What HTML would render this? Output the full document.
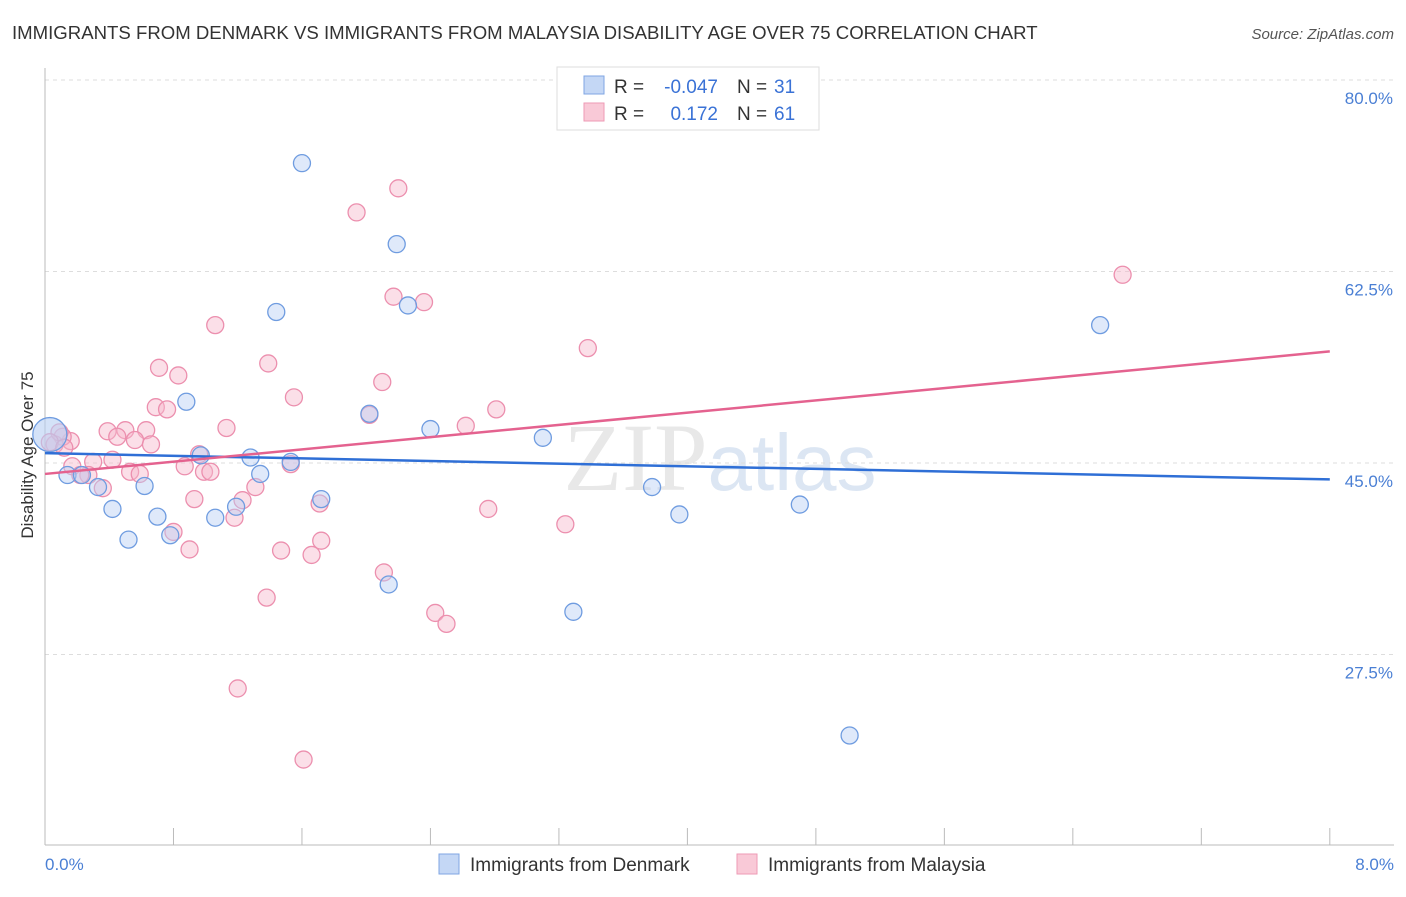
<!DOCTYPE html>
<html><head><meta charset="utf-8"><style>
body{margin:0;background:#fff;font-family:"Liberation Sans",sans-serif;}
</style></head><body>
<svg width="1406" height="892" xmlns="http://www.w3.org/2000/svg">
<text x="12" y="39" font-size="18.6" fill="#333">IMMIGRANTS FROM DENMARK VS IMMIGRANTS FROM MALAYSIA DISABILITY AGE OVER 75 CORRELATION CHART</text>
<text x="1394" y="39" font-size="15" fill="#555" font-style="italic" text-anchor="end">Source: ZipAtlas.com</text>
<text x="720" y="490" font-size="96" fill="#e8e8e8" text-anchor="middle" font-family="Liberation Serif,serif">ZIP<tspan fill="#dce6f3" font-family="Liberation Sans,sans-serif" font-size="80">atlas</tspan></text>
<g id="grid"></g>
<line x1="45" y1="68" x2="45" y2="845" stroke="#bbb"/>
<line x1="45" y1="845" x2="1394" y2="845" stroke="#bbb"/>
<g id="xticks"></g>
<text x="45" y="870" font-size="17" fill="#4a7fd4">0.0%</text>
<text x="1394" y="870" font-size="17" fill="#4a7fd4" text-anchor="end">8.0%</text>
<text transform="translate(33,455) rotate(-90)" font-size="17" fill="#333" text-anchor="middle">Disability Age Over 75</text>
<g id="pts"></g>
<g id="lines"></g>
<g>
<rect x="557" y="67" width="262" height="63" fill="#fff" stroke="#ddd"/>
<rect x="584" y="76" width="20" height="18" fill="#c4d7f5" stroke="#7fa6e3"/>
<rect x="584" y="103" width="20" height="18" fill="#f9c9d7" stroke="#ee9ab4"/>
<text x="614" y="93" font-size="19" fill="#333">R =</text>
<text x="718" y="93" font-size="19" fill="#3a72d6" text-anchor="end">-0.047</text>
<text x="737" y="93" font-size="19" fill="#333">N =</text>
<text x="774" y="93" font-size="19" fill="#3a72d6">31</text>
<text x="614" y="120" font-size="19" fill="#333">R =</text>
<text x="718" y="120" font-size="19" fill="#3a72d6" text-anchor="end">0.172</text>
<text x="737" y="120" font-size="19" fill="#333">N =</text>
<text x="774" y="120" font-size="19" fill="#3a72d6">61</text>
</g>
<g>
<rect x="439" y="854" width="20" height="20" fill="#c4d7f5" stroke="#7fa6e3"/>
<text x="470" y="871" font-size="19" fill="#333">Immigrants from Denmark</text>
<rect x="737" y="854" width="20" height="20" fill="#f9c9d7" stroke="#ee9ab4"/>
<text x="768" y="871" font-size="19" fill="#333">Immigrants from Malaysia</text>
</g>
</svg>
<script>
const yTicks=[80,62.5,45,27.5];
const yTickLabels=["80.0%","62.5%","45.0%","27.5%"];
const xTickVals=[0,0.8,1.6,2.4,3.2,4.0,4.8,5.6,6.4,7.2,8.0];
const denmarkX=[1.60,2.19,1.44,2.26,6.57,0.88,2.02,2.40,3.10,0.97,1.28,1.53,0.14,0.23,1.34,0.33,0.62,3.78,1.72,0.42,1.19,0.70,1.06,3.95,4.70,0.52,0.78,2.14,3.29,5.01,0.03];
const denmarkY=[72.4,65.0,58.8,59.4,57.6,50.6,49.5,48.1,47.3,45.7,45.5,45.1,43.9,43.9,44.0,42.8,42.9,42.8,41.7,40.8,41.0,40.1,40.0,40.3,41.2,38.0,38.4,33.9,31.4,20.1,47.6];
const malaysiaX=[2.20,1.94,6.71,2.17,2.36,1.06,3.38,0.71,1.39,0.83,2.10,1.55,0.69,0.76,2.81,2.02,1.13,2.62,0.39,0.50,0.63,0.45,0.56,0.66,0.16,0.11,0.06,0.96,0.30,0.42,0.17,0.27,0.87,0.99,1.03,0.53,0.59,1.53,0.36,1.31,0.93,1.23,1.71,2.76,1.18,3.24,0.80,1.72,0.90,1.47,1.66,2.11,1.38,2.43,2.50,1.20,1.61,0.09,0.03,0.12,0.22];
const malaysiaY=[70.1,67.9,62.2,60.2,59.7,57.6,55.5,53.7,54.1,53.0,52.4,51.0,50.1,49.9,49.9,49.4,48.2,48.4,47.9,48.0,48.0,47.4,47.1,46.7,47.0,47.4,46.7,45.8,45.1,45.3,44.7,43.9,44.7,44.2,44.2,44.2,44.0,44.9,42.7,42.8,41.7,41.6,41.3,40.8,40.0,39.4,38.7,37.9,37.1,37.0,36.6,35.0,32.7,31.3,30.3,24.4,17.9,47.8,46.9,46.4,43.9];
const trendDenmark=[45.9,43.5];
const trendM=[44.0,55.2];
const ns="http://www.w3.org/2000/svg";
const X=v=>45+v*160.6, Y=v=>463-(v-45)*10.943;
function mk(t,a,p){const e=document.createElementNS(ns,t);for(const k in a)e.setAttribute(k,a[k]);p.appendChild(e);return e;}
const grid=document.getElementById('grid');
yTicks.forEach((v,i)=>{
 const l=mk('line',{x1:45,x2:1394,y1:Y(v),y2:Y(v),stroke:'#ddd','stroke-dasharray':'4,4'},grid);
 
 
 const t=mk('text',{x:1393,y:Y(v)+24,'font-size':17,fill:'#4a7fd4','text-anchor':'end'},grid);
 t.textContent=yTickLabels[i];
 
 
});
const xt=document.getElementById('xticks');
xTickVals.forEach(v=>{
 const l=mk('line',{x1:X(v),x2:X(v),y1:828,y2:845,stroke:'#bbb'},xt);
 
 
});
const pts=document.getElementById('pts');
function draw(xs,ys,fill,stroke,name){
 xs.forEach((x,i)=>{
  const big=(i===xs.length-1&&name==='denmark-point');
  const c=mk('circle',{cx:X(x),cy:Y(ys[i]),r:big?17:8.5,fill:fill,'fill-opacity':big?0.6:0.45,stroke:stroke,'stroke-width':1.3},pts);
  
  
 });
}
draw(malaysiaX,malaysiaY,'#f7b8cb','#ec8fae','malaysia-point');
draw(denmarkX,denmarkY,'#b8cff3','#6f9ce0','denmark-point');
const lines=document.getElementById('lines');
let a=mk('line',{x1:X(0),x2:X(8),y1:Y(trendDenmark[0]),y2:Y(trendDenmark[1]),stroke:'#2f6fd6','stroke-width':2.5},lines);


let b=mk('line',{x1:X(0),x2:X(8),y1:Y(trendM[0]),y2:Y(trendM[1]),stroke:'#e4628f','stroke-width':2.5},lines);


</script>
</body></html>
